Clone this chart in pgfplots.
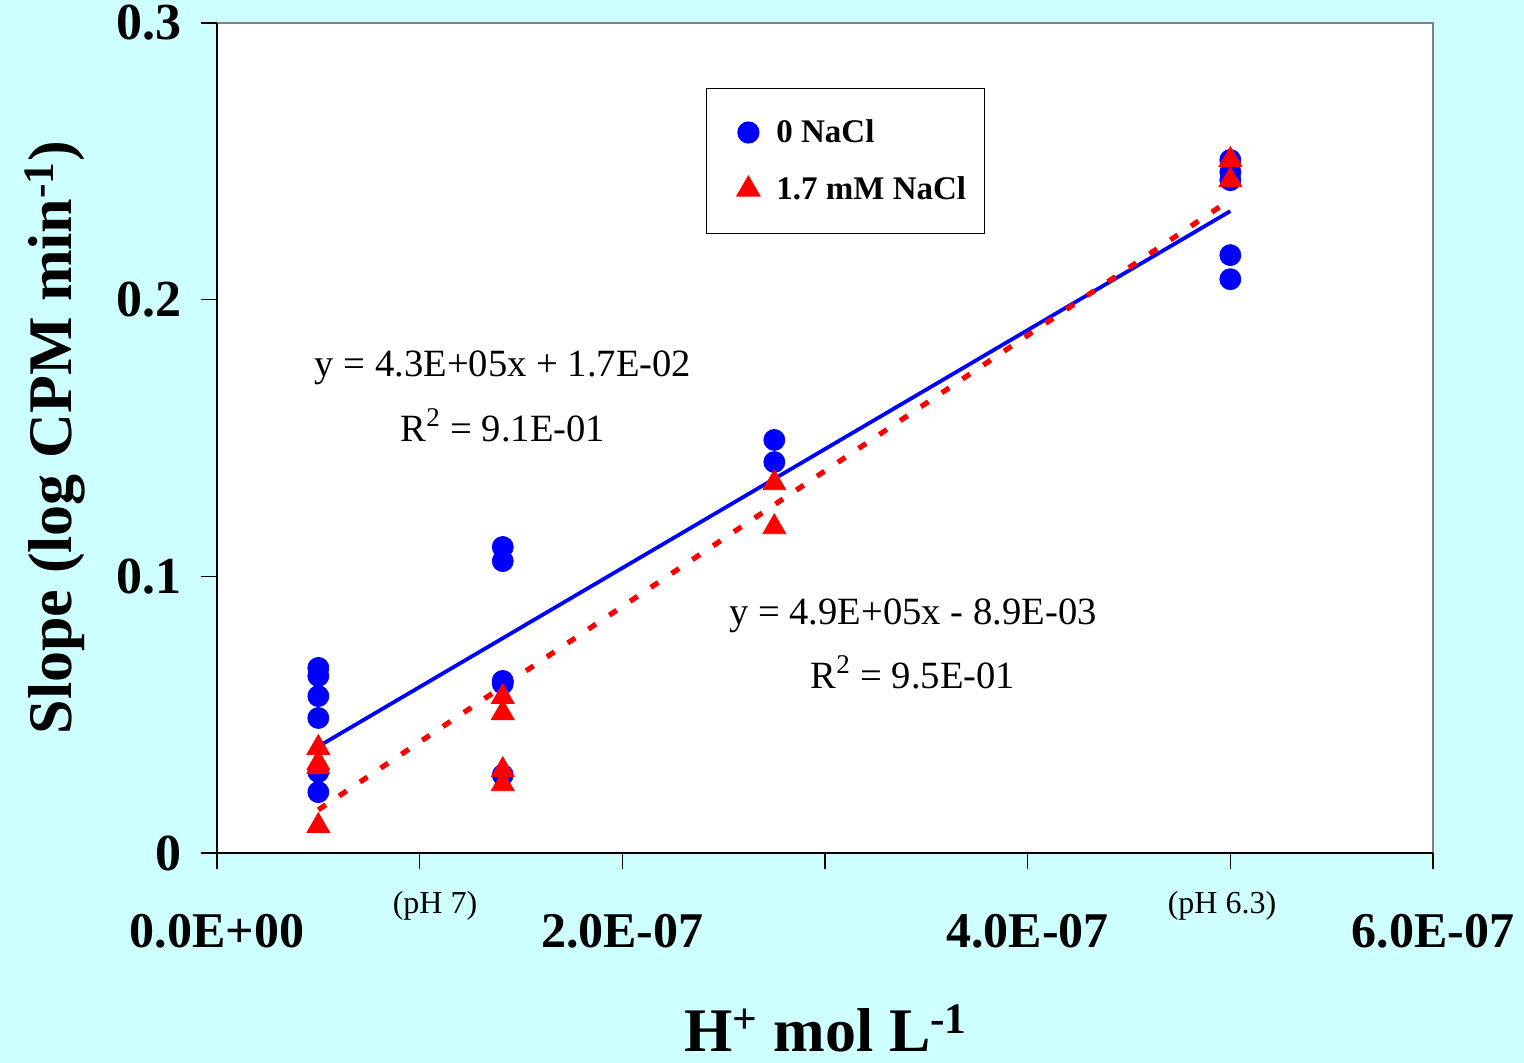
\documentclass[border=0pt]{standalone}
\usepackage{fontspec}
\setmainfont{Liberation Serif}
\usepackage{pgfplots}
\pgfplotsset{compat=1.18}
\definecolor{bgcyan}{RGB}{206,255,255}
\definecolor{bordergray}{RGB}{128,128,128}
\begin{document}
\begin{tikzpicture}
\useasboundingbox (0,0) rectangle (762bp,531.5bp);
\fill[bgcyan] (0,0) rectangle (762bp,531.5bp);
\begin{axis}[
  at={(108.5bp,105bp)}, anchor=south west,
  scale only axis, width=608bp, height=415bp,
  xmin=0, xmax=6e-7, ymin=0, ymax=0.3,
  clip=false,
  axis x line*=bottom, axis y line*=left,
  axis line style={black, line width=0.8bp, -},
  axis background/.style={fill=white, draw=bordergray, line width=1.2bp},
  xtick={0,1e-7,2e-7,3e-7,4e-7,5e-7,6e-7},
  xticklabels={0.0E+00,,2.0E-07,,4.0E-07,,6.0E-07},
  ytick={0,0.1,0.2,0.3}, yticklabels={0,0.1,0.2,0.3},
  scaled x ticks=false, scaled y ticks=false,
  tick align=outside, major tick length=8bp,
  tick style={black, line width=0.6bp},
  xticklabel style={font=\bfseries\fontsize{25bp}{27bp}\selectfont, anchor=base, yshift=-39bp},
  yticklabel style={font=\bfseries\fontsize{26bp}{28bp}\selectfont, anchor=east, xshift=-6bp},
  xlabel={H\textsuperscript{+} mol L\textsuperscript{-1}},
  ylabel={Slope (log CPM min\textsuperscript{-1})},
  xlabel style={font=\bfseries\fontsize{31bp}{34bp}\selectfont, at={(axis description cs:0.5008,-0.2386)}, anchor=base, text depth=0pt},
  ylabel style={font=\bfseries\fontsize{31bp}{34bp}\selectfont, at={(axis description cs:-0.1332,0.5006)}, anchor=center},
  legend style={at={(0.402,0.9217)}, anchor=north west, draw=black, line width=0.6bp, fill=white,
    font=\bfseries\fontsize{16.5bp}{18bp}\selectfont, inner xsep=7bp, inner ysep=13.5bp, row sep=11.5bp,
    cells={anchor=west}},
  legend image code/.code={\pgfpathmoveto{\pgfpointorigin}\pgfpathlineto{\pgfpoint{26bp}{0bp}}\pgfusepath{}\draw[#1] plot coordinates {(14bp,0bp)};},
]
\addplot[only marks, mark=*, mark size=5.25bp, color=blue, fill=blue]
  coordinates {
  (5e-8,0.0669) (5e-8,0.0640) (5e-8,0.0567) (5e-8,0.0488) (5e-8,0.0293) (5e-8,0.0220)
  (1.41e-7,0.1106) (1.41e-7,0.1055) (1.41e-7,0.0622) (1.41e-7,0.0612) (1.41e-7,0.0282)
  (2.75e-7,0.1493) (2.75e-7,0.1413)
  (5e-7,0.2505) (5e-7,0.2461) (5e-7,0.2432) (5e-7,0.2161) (5e-7,0.2074)
  };
\addlegendentry{0 NaCl}
\addplot[only marks, mark=triangle*, mark size=6.6bp, color=red, fill=red]
  coordinates {
  (5e-8,0.0380) (5e-8,0.0325) (5e-8,0.0310) (5e-8,0.0098)
  (1.41e-7,0.0564) (1.41e-7,0.0506) (1.41e-7,0.0300) (1.41e-7,0.0249)
  (2.75e-7,0.1337) (2.75e-7,0.1178)
  (5e-7,0.2505) (5e-7,0.2432)
  };
\addlegendentry{1.7 mM NaCl}
\addplot[forget plot, blue, line width=1.9bp, no marks] coordinates {(5e-8,0.0385) (5e-7,0.232)};
\addplot[forget plot, red, line width=2.6bp, no marks, dash pattern=on 4.5bp off 8bp] coordinates {(5e-8,0.0156) (5e-7,0.2361)};
\node[font=\fontsize{19.3bp}{22bp}\selectfont] at (axis cs:1.411e-7,0.1753) {y = 4.3E+05x + 1.7E-02};
\node[font=\fontsize{19.3bp}{22bp}\selectfont] at (axis cs:1.411e-7,0.1545) {R\textsuperscript{2} = 9.1E-01};
\node[font=\fontsize{19.3bp}{22bp}\selectfont] at (axis cs:3.434e-7,0.0857) {y = 4.9E+05x - 8.9E-03};
\node[font=\fontsize{19.3bp}{22bp}\selectfont] at (axis cs:3.434e-7,0.0652) {R\textsuperscript{2} = 9.5E-01};
\node[font=\fontsize{16bp}{18bp}\selectfont, anchor=base] at (axis cs:1.0757e-7,-0.0217) {(pH 7)};
\node[font=\fontsize{16bp}{18bp}\selectfont, anchor=base] at (axis cs:4.959e-7,-0.0217) {(pH 6.3)};
\end{axis}
\end{tikzpicture}
\end{document}
